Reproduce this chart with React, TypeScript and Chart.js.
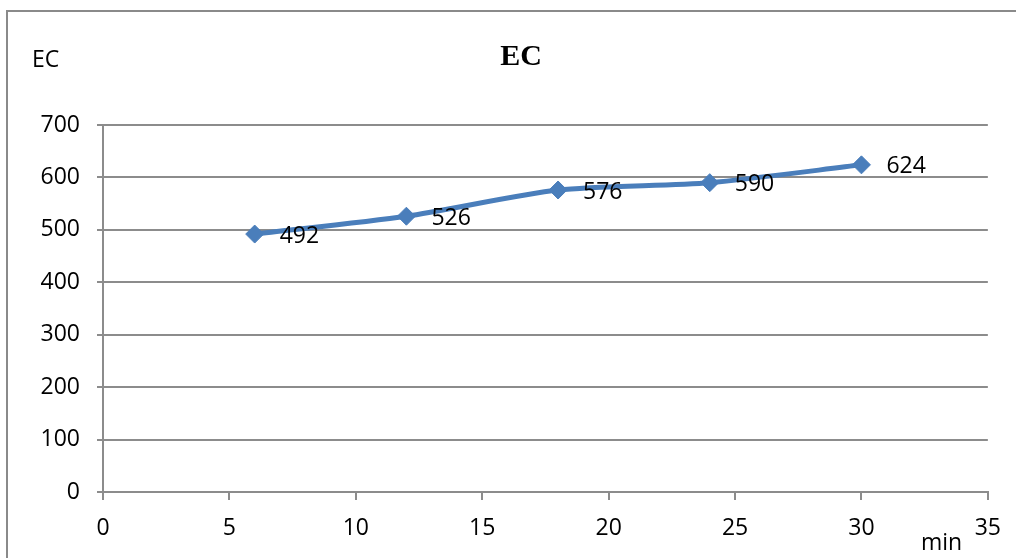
import React, { useEffect, useRef } from "react";
import { Chart, registerables } from "chart.js";

Chart.register(...registerables);

// Electrical conductivity readings over time
const minutes = [6, 12, 18, 24, 30];
const ecValues = [492, 526, 576, 590, 624];

const xTicks = [0, 5, 10, 15, 20, 25, 30, 35];
const yTicks = [0, 100, 200, 300, 400, 500, 600, 700];

const chartTitle = "EC";
const yAxisTitle = "EC";
const xAxisTitle = "min";

const FONT = "'Open Sans', 'Noto Sans', sans-serif";
const FONT_SIZE = 23;
const LINE_COLOR = "#4a7ebb";
const GRID_COLOR = "#8c8c8c";

const decorations = {
  id: "decorations",
  afterDraw(chart: any) {
    const ctx = chart.ctx as CanvasRenderingContext2D;
    ctx.save();

    // outer frame
    ctx.strokeStyle = "#8a8a8a";
    ctx.lineWidth = 2;
    ctx.beginPath();
    ctx.moveTo(7, 600);
    ctx.lineTo(7, 11);
    ctx.lineTo(1030, 11);
    ctx.stroke();

    // chart title
    ctx.fillStyle = "#000";
    ctx.font = "bold 30px 'Liberation Serif', 'Times New Roman', serif";
    ctx.textAlign = "center";
    ctx.textBaseline = "middle";
    ctx.fillText(chartTitle, 521, 57);

    // axis titles
    ctx.font = `${FONT_SIZE}px ${FONT}`;
    ctx.textAlign = "left";
    ctx.fillText(yAxisTitle, 32, 60);
    ctx.fillText(xAxisTitle, 921, 543);

    // value labels to the right of each point
    const meta = chart.getDatasetMeta(0);
    meta.data.forEach((pt: any, i: number) => {
      ctx.fillText(String(ecValues[i]), pt.x + 25, pt.y + 2);
    });

    ctx.restore();
  },
};

export default function App() {
  const canvasRef = useRef<HTMLCanvasElement | null>(null);

  useEffect(() => {
    if (!canvasRef.current) return;
    const chart = new Chart(canvasRef.current, {
      type: "line",
      data: {
        datasets: [
          {
            data: minutes.map((m, i) => ({ x: m, y: ecValues[i] })),
            borderColor: LINE_COLOR,
            backgroundColor: LINE_COLOR,
            borderWidth: 5,
            tension: 0.25,
            pointStyle: "rectRot",
            pointRadius: 9,
            pointBorderWidth: 1,
            pointBorderColor: LINE_COLOR,
            pointBackgroundColor: LINE_COLOR,
          },
        ],
      },
      options: {
        responsive: false,
        animation: false,
        layout: { padding: { top: 125, right: 28, bottom: 0, left: 0 } },
        plugins: {
          legend: { display: false },
          title: { display: false },
          tooltip: { enabled: false },
        },
        scales: {
          x: {
            type: "linear",
            min: 0,
            max: 35,
            afterBuildTicks: (scale: any) => {
              scale.ticks = xTicks.map((v) => ({ value: v }));
            },
            afterFit: (scale: any) => {
              scale.height = 66;
            },
            grid: {
              drawOnChartArea: false,
              color: GRID_COLOR,
              lineWidth: 2,
              tickLength: 8,
            },
            border: { display: true, color: GRID_COLOR, width: 2 },
            ticks: {
              color: "#000",
              font: { family: FONT, size: FONT_SIZE },
              padding: 15,
              maxRotation: 0,
            },
          },
          y: {
            min: 0,
            max: 700,
            afterBuildTicks: (scale: any) => {
              scale.ticks = yTicks.map((v) => ({ value: v }));
            },
            afterFit: (scale: any) => {
              scale.width = 103;
            },
            grid: {
              color: GRID_COLOR,
              lineWidth: 2,
              tickLength: 6,
            },
            border: { display: true, color: GRID_COLOR, width: 2 },
            ticks: {
              color: "#000",
              font: { family: FONT, size: FONT_SIZE },
              padding: 17,
            },
          },
        },
      },
      plugins: [decorations],
    });
    return () => chart.destroy();
  }, []);

  return (
    <div style={{ position: "fixed", left: 0, top: 0, width: 1016, height: 558, background: "#fff" }}>
      <canvas ref={canvasRef} width={1016} height={558} style={{ display: "block" }} />
    </div>
  );
}
